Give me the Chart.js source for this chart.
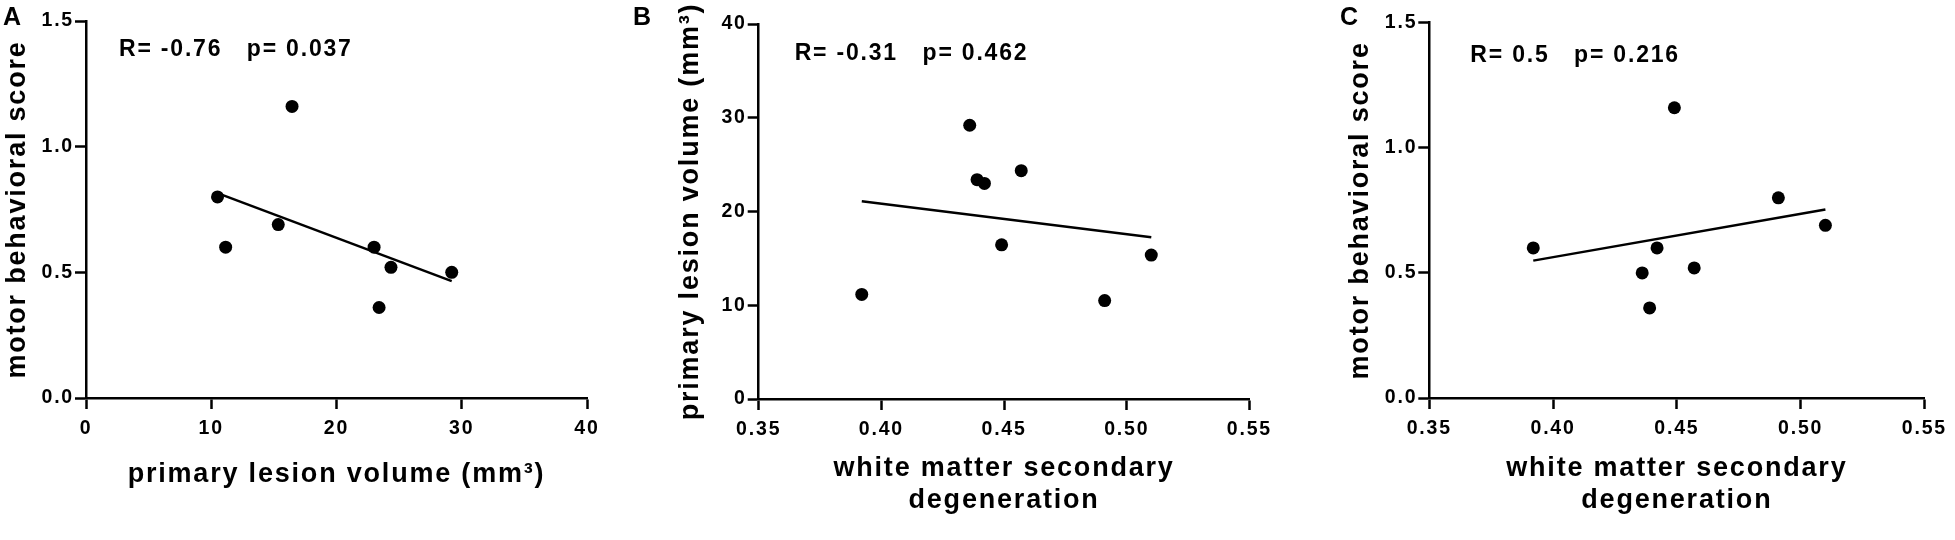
<!DOCTYPE html>
<html>
<head>
<meta charset="utf-8">
<script src="https://cdn.jsdelivr.net/npm/chart.js@4"></script>
<style>
  body { margin: 0; background: #fff; width: 1955px; height: 540px; overflow: hidden; position: relative; }
  .panel { position: absolute; top: 0; height: 540px; }
</style>
</head>
<body>
<div class="panel" style="left:0;width:640px"><canvas id="chartA"></canvas></div>
<div class="panel" style="left:620px;width:660px"><canvas id="chartB"></canvas></div>
<div class="panel" style="left:1290px;width:665px"><canvas id="chartC"></canvas></div>
<script>
// Datos por sujeto (n = 8)
const lesionVolume = [10.5, 11.15, 15.35, 16.45, 23.0, 24.35, 23.4, 29.2];
const motorScore = [0.80, 0.60, 0.69, 1.16, 0.60, 0.52, 0.36, 0.50];
const wmDegeneration = [0.491, 0.392, 0.510, 0.449, 0.442, 0.457, 0.439, 0.436];

// Rectas de regresión (extremos)
const fitA_x = [10.5, 29.2];
const fitA_y = [0.815, 0.465];
const fitB_x = [0.392, 0.510];
const fitB_y = [21.1, 17.25];
const fitC_x = [0.392, 0.510];
const fitC_y = [0.549, 0.753];

// Marcas de los ejes
const ticksLesion = [0, 10, 20, 30, 40];
const ticksMotor = [0, 0.5, 1.0, 1.5];
const ticksWm = [0.35, 0.40, 0.45, 0.50, 0.55];

const FONT = '"Liberation Sans", Arial, Helvetica, sans-serif';
const SPACING = '1.8px';

function points(xs, ys) {
  return xs.map((x, i) => ({ x: x, y: ys[i] }));
}

// Espaciado de letras y fondo blanco
const spacingPlugin = {
  id: 'spacing',
  beforeUpdate(chart) { chart.ctx.letterSpacing = SPACING; },
  beforeDraw(chart) {
    const { ctx, width, height } = chart;
    ctx.letterSpacing = SPACING;
    ctx.save();
    ctx.fillStyle = '#fff';
    ctx.fillRect(0, 0, width, height);
    ctx.restore();
  }
};

// Texto de estadística y letra del panel
const notesPlugin = {
  id: 'notes',
  afterDraw(chart, args, opts) {
    const { ctx, chartArea } = chart;
    ctx.save();
    ctx.fillStyle = '#000';
    ctx.letterSpacing = SPACING;
    ctx.textBaseline = 'alphabetic';
    ctx.textAlign = 'left';
    ctx.font = 'bold 23px ' + FONT;
    ctx.fillText(opts.stats, chartArea.left + opts.statsDx, chartArea.top + opts.statsDy);
    ctx.font = 'bold 25px ' + FONT;
    ctx.fillText(opts.letter, opts.letterX, 25);
    ctx.restore();
  }
};

function axis(ticks, decimals, title, titlePadding, fitSize, horizontal) {
  return {
    type: 'linear',
    min: ticks[0],
    max: ticks[ticks.length - 1],
    afterBuildTicks(scale) { scale.ticks = ticks.map(v => ({ value: v })); },
    afterFit(scale) {
      if (horizontal) scale.height = fitSize; else scale.width = fitSize;
    },
    border: { display: true, color: '#000', width: 2.5 },
    grid: { display: true, drawOnChartArea: false, drawTicks: true, tickLength: 11, tickWidth: 2.5, tickColor: '#000' },
    ticks: {
      color: '#000',
      padding: horizontal ? 8 : 1,
      maxRotation: 0,
      font: { family: FONT, size: 19.5, weight: 'bold' },
      callback: v => Number(v).toFixed(decimals)
    },
    title: {
      display: true,
      text: title,
      color: '#000',
      padding: titlePadding,
      font: { family: FONT, size: 27, weight: 'bold', lineHeight: 1.2 }
    }
  };
}

function makeChart(id, cfg) {
  return new Chart(document.getElementById(id), {
    type: 'scatter',
    data: {
      datasets: [
        {
          data: points(cfg.xs, cfg.ys),
          pointRadius: 6.5,
          pointHoverRadius: 6.5,
          pointBackgroundColor: '#000',
          pointBorderWidth: 0
        },
        {
          data: points(cfg.fitX, cfg.fitY),
          showLine: true,
          pointRadius: 0,
          borderColor: '#000',
          borderWidth: 2.5
        }
      ]
    },
    options: {
      responsive: true,
      maintainAspectRatio: false,
      animation: false,
      events: [],
      layout: { padding: { left: 0, top: cfg.top, right: cfg.right, bottom: 0 } },
      scales: {
        x: axis(cfg.xTicks, cfg.xDec, cfg.xTitle, cfg.xTitlePad, cfg.xAxisH, true),
        y: axis(cfg.yTicks, cfg.yDec, cfg.yTitle, cfg.yTitlePad, cfg.yAxisW, false)
      },
      plugins: {
        legend: { display: false },
        tooltip: { enabled: false },
        notes: { stats: cfg.stats, statsDx: cfg.statsDx, statsDy: cfg.statsDy, letter: cfg.letter, letterX: cfg.letterX }
      }
    },
    plugins: [spacingPlugin, notesPlugin]
  });
}

makeChart('chartA', {
  xs: lesionVolume, ys: motorScore, fitX: fitA_x, fitY: fitA_y,
  xTicks: ticksLesion, xDec: 0, yTicks: ticksMotor, yDec: 1,
  xTitle: 'primary lesion volume (mm³)', xTitlePad: { top: 0, bottom: 49 },
  yTitle: 'motor behavioral score', yTitlePad: { top: 1.5, bottom: 0 },
  top: 21, right: 53, yAxisW: 86, xAxisH: 142,
  stats: 'R= -0.76   p= 0.037', statsDx: 33, statsDy: 35,
  letter: 'A', letterX: 3
});

makeChart('chartB', {
  xs: wmDegeneration, ys: lesionVolume, fitX: fitB_x, fitY: fitB_y,
  xTicks: ticksWm, xDec: 2, yTicks: ticksLesion, yDec: 0,
  xTitle: ['white matter secondary', 'degeneration'], xTitlePad: { top: 0, bottom: 22.8 },
  yTitle: 'primary lesion volume (mm³)', yTitlePad: { top: 54.8, bottom: 0 },
  top: 24, right: 22, yAxisW: 138.7, xAxisH: 141,
  stats: 'R= -0.31   p= 0.462', statsDx: 36, statsDy: 36,
  letter: 'B', letterX: 13
});

makeChart('chartC', {
  xs: wmDegeneration, ys: motorScore, fitX: fitC_x, fitY: fitC_y,
  xTicks: ticksWm, xDec: 2, yTicks: ticksMotor, yDec: 1,
  xTitle: ['white matter secondary', 'degeneration'], xTitlePad: { top: 0, bottom: 22.8 },
  yTitle: 'motor behavioral score', yTitlePad: { top: 54.8, bottom: 0 },
  top: 22.7, right: 25.7, yAxisW: 139.3, xAxisH: 142,
  stats: 'R= 0.5   p= 0.216', statsDx: 41, statsDy: 39,
  letter: 'C', letterX: 50
});
</script>
</body>
</html>
